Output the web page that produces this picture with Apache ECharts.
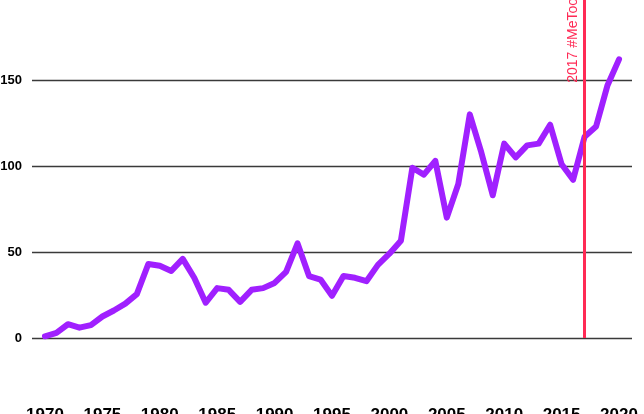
<!DOCTYPE html>
<html>
<head>
<meta charset="utf-8">
<script src="https://cdn.jsdelivr.net/npm/echarts@6/dist/echarts.min.js"></script>
<style>
  html, body { margin: 0; padding: 0; background: #fff; }
  #chart { width: 644px; height: 414px; }
</style>
</head>
<body>
<div id="chart"></div>
<script>
// years and counts
var years = [];
for (var y = 1970; y <= 2020; y++) years.push(y);
var counts = [1, 3, 8, 6, 7.5, 12.5, 16, 20, 25.5, 43,
              42, 39, 46, 35, 20.5, 29, 28, 21, 28, 29,
              32, 38.5, 55, 36, 34, 24.5, 36, 35, 33, 42.5,
              49, 56.5, 99, 95, 103, 70, 89.5, 130, 108, 83,
              113, 105, 112, 113, 124, 101, 92, 117, 123, 147,
              162];
var xTicks = [1970, 1975, 1980, 1985, 1990, 1995, 2000, 2005, 2010, 2015, 2020];
var eventYear = 2017;
var eventLabel = '2017 #MeToo';

var points = years.map(function (yr, i) { return [yr, counts[i]]; });

var chart = echarts.init(document.getElementById('chart'));
var option = {
    animation: false,
    grid: {
        left: 32,
        right: 12,
        top: -6,
        bottom: 76,
        containLabel: false,
        outerBoundsMode: 'none'
    },
    xAxis: {
        type: 'value',
        min: 1968.87,
        max: 2021.13,
        axisLine: { show: false },
        axisTick: { show: false },
        splitLine: { show: false },
        axisLabel: {
            customValues: xTicks,
            formatter: function (v) { return String(v); },
            margin: 69,
            color: '#000',
            fontWeight: 'bold',
            fontSize: 17,
            fontFamily: '"Liberation Sans", Arial, sans-serif'
        }
    },
    yAxis: {
        type: 'value',
        min: 0,
        max: 200,
        interval: 50,
        axisLine: { show: false },
        axisTick: { show: false },
        splitLine: {
            lineStyle: { color: '#3a3a3a', width: 1.3 }
        },
        axisLabel: {
            margin: 10,
            showMaxLabel: true,
            color: '#000',
            fontWeight: 'bold',
            fontSize: 13,
            fontFamily: '"Liberation Sans", Arial, sans-serif',
            padding: [7, 0, 0, 0]
        }
    },
    series: [
        {
            type: 'line',
            data: points,
            showSymbol: false,
            lineStyle: { color: '#a020ff', width: 6, join: 'round', cap: 'round' },
            itemStyle: { color: '#a020ff' },
            markLine: {
                silent: true,
                symbol: 'none',
                lineStyle: { color: '#ff2a55', width: 3, type: 'solid' },
                label: {
                    show: true,
                    position: 'insideEndTop',
                    formatter: eventLabel,
                    color: '#ff2a55',
                    fontSize: 14,
                    fontFamily: '"Liberation Sans", Arial, sans-serif',
                    distance: 4
                },
                data: [{ xAxis: eventYear }]
            }
        }
    ]
};
chart.setOption(option);
</script>
</body>
</html>
